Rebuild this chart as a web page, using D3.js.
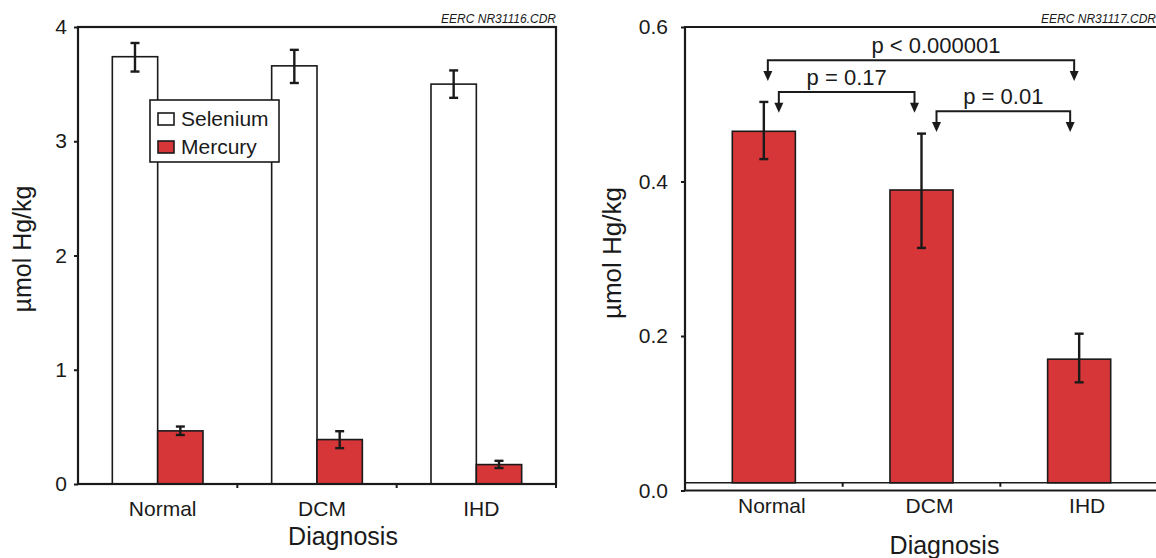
<!DOCTYPE html>
<html>
<head>
<meta charset="utf-8">
<script src="https://cdn.jsdelivr.net/npm/d3@7"></script>
<style>
  body { margin: 0; background: #fff; }
  svg { display: block; font-family: "Liberation Sans", Arial, sans-serif; }
</style>
</head>
<body>
<svg width="1156" height="558"></svg>
<script>
// data
const categories = ['Normal', 'DCM', 'IHD'];
const series = ['Selenium', 'Mercury'];
const selenium = [3.74, 3.66, 3.50];
const seleniumHi = [3.86, 3.80, 3.62];
const seleniumLo = [3.61, 3.51, 3.38];
const mercury = [0.465, 0.389, 0.170];
const mercuryHi = [0.503, 0.462, 0.203];
const mercuryLo = [0.429, 0.314, 0.140];
const leftTicks = [0, 1, 2, 3, 4];
const rightTicks = [0, 0.2, 0.4, 0.6];
const pLabels = ['p < 0.000001', 'p = 0.17', 'p = 0.01'];
const pPairs = [['Normal', 'IHD'], ['Normal', 'DCM'], ['DCM', 'IHD']];

const red = '#d63638';
const ink = '#1a1a1a';
const svg = d3.select('svg');

// ---------- left panel ----------
const L = {left: 78, right: 556, top: 27, bottom: 484};
const x1 = d3.scaleBand().domain(categories).range([L.left, L.right]);
const xs1 = d3.scaleBand().domain(series).range([0, x1.bandwidth()]).paddingOuter(0.757);
const y1 = d3.scaleLinear().domain([0, 4]).range([L.bottom, L.top]);

const left = svg.append('g');

const rows = categories.map((c, i) => ({
  cat: c,
  vals: [
    {s: 'Selenium', v: selenium[i], hi: seleniumHi[i], lo: seleniumLo[i]},
    {s: 'Mercury', v: mercury[i], hi: mercuryHi[i], lo: mercuryLo[i]}
  ]
}));

const grp = left.selectAll('g.grp').data(rows).enter().append('g')
  .attr('transform', d => `translate(${x1(d.cat)},0)`);

grp.selectAll('rect').data(d => d.vals).enter().append('rect')
  .attr('x', d => xs1(d.s))
  .attr('y', d => y1(d.v))
  .attr('width', xs1.bandwidth())
  .attr('height', d => y1(0) - y1(d.v))
  .attr('fill', d => d.s === 'Mercury' ? red : '#fff')
  .attr('stroke', ink).attr('stroke-width', 1.6);

// error bar: stem + two caps
const errbar = (g, xf, yf, cap) => {
  g.append('line')
    .attr('x1', xf).attr('x2', xf)
    .attr('y1', d => yf(d.hi)).attr('y2', d => yf(d.lo));
  g.append('line')
    .attr('x1', d => xf(d) - cap).attr('x2', d => xf(d) + cap)
    .attr('y1', d => yf(d.hi)).attr('y2', d => yf(d.hi));
  g.append('line')
    .attr('x1', d => xf(d) - cap).attr('x2', d => xf(d) + cap)
    .attr('y1', d => yf(d.lo)).attr('y2', d => yf(d.lo));
};

grp.selectAll('g.err').data(d => d.vals).enter().append('g')
  .attr('stroke', ink).attr('stroke-width', 2.4)
  .call(errbar, d => xs1(d.s) + xs1.bandwidth() / 2, y1, 4.5);

// frame
left.append('rect')
  .attr('x', L.left).attr('y', L.top)
  .attr('width', L.right - L.left).attr('height', L.bottom - L.top)
  .attr('fill', 'none').attr('stroke', ink).attr('stroke-width', 2.2);

// y axis
left.append('g')
  .attr('transform', `translate(${L.left},0)`)
  .call(d3.axisLeft(y1).tickValues(leftTicks).tickFormat(d3.format('d')).tickSize(4).tickSizeOuter(0).tickPadding(7))
  .call(g => g.select('.domain').remove())
  .call(g => g.selectAll('line').attr('stroke', ink).attr('stroke-width', 2))
  .call(g => g.selectAll('text').attr('font-size', 21).attr('fill', ink).attr('font-family', 'Liberation Sans, Arial'));

// x ticks on band edges
left.selectAll('line.xt').data(categories.slice(1).map(c => x1(c)).concat([L.right])).enter()
  .append('line')
  .attr('x1', d => d).attr('x2', d => d)
  .attr('y1', L.bottom).attr('y2', L.bottom + 4)
  .attr('stroke', ink).attr('stroke-width', 2);

left.append('g')
  .attr('transform', `translate(5,${L.bottom})`)
  .call(d3.axisBottom(x1).tickSize(0).tickPadding(17))
  .call(g => g.select('.domain').remove())
  .call(g => g.selectAll('text').attr('font-size', 21).attr('fill', ink).attr('font-family', 'Liberation Sans, Arial'));

left.append('text')
  .attr('x', (L.left + L.right) / 2 + 26).attr('y', 545)
  .attr('text-anchor', 'middle').attr('font-size', 25).attr('fill', ink)
  .text('Diagnosis');

left.append('text')
  .attr('transform', `translate(31,249) rotate(-90)`)
  .attr('text-anchor', 'middle').attr('font-size', 25).attr('fill', ink)
  .text('µmol Hg/kg');

left.append('text')
  .attr('x', L.right).attr('y', 23)
  .attr('text-anchor', 'end').attr('font-size', 12).attr('font-style', 'italic').attr('fill', ink)
  .text('EERC NR31116.CDR');

// legend
const leg = left.append('g').attr('transform', 'translate(150,100)');
leg.append('rect').attr('width', 129).attr('height', 62)
  .attr('fill', '#fff').attr('stroke', ink).attr('stroke-width', 1.6);
const li = leg.selectAll('g.li').data(series).enter().append('g')
  .attr('transform', (d, i) => `translate(8,${13 + i * 28})`);
li.append('rect').attr('width', 16).attr('height', 12)
  .attr('fill', d => d === 'Mercury' ? red : '#fff')
  .attr('stroke', ink).attr('stroke-width', 1.6);
li.append('text').attr('x', 23).attr('y', 13)
  .attr('font-size', 21).attr('fill', ink)
  .text(d => d);

// ---------- right panel ----------
const R = {left: 685, right: 1158, top: 27, bottom: 490.5};
const base = 0.01;
const x2 = d3.scaleBand().domain(categories).range([R.left, R.right]);
const y2 = d3.scaleLinear().domain([0, 0.6]).range([R.bottom, R.top]);
const bw2 = x2.bandwidth() * 0.4;
const cx2 = c => x2(c) + x2.bandwidth() / 2;

const right = svg.append('g');
const hg = categories.map((c, i) => ({cat: c, v: mercury[i], hi: mercuryHi[i], lo: mercuryLo[i]}));

right.selectAll('rect.bar').data(hg).enter().append('rect')
  .attr('x', d => cx2(d.cat) - bw2 / 2)
  .attr('y', d => y2(d.v))
  .attr('width', bw2)
  .attr('height', d => y2(base) - y2(d.v))
  .attr('fill', red).attr('stroke', ink).attr('stroke-width', 1.6);

right.selectAll('g.err').data(hg).enter().append('g')
  .attr('stroke', ink).attr('stroke-width', 2.4)
  .call(errbar, d => cx2(d.cat), y2, 4.5);

// frame lines
right.append('path')
  .attr('d', `M${R.right + 10},${R.top}H${R.left}V${R.bottom}H${R.right + 10}`)
  .attr('fill', 'none').attr('stroke', ink).attr('stroke-width', 2.2);
right.append('line')
  .attr('x1', R.left).attr('x2', R.right + 10)
  .attr('y1', y2(base)).attr('y2', y2(base))
  .attr('stroke', ink).attr('stroke-width', 1.6);

right.append('g')
  .attr('transform', `translate(${R.left},0)`)
  .call(d3.axisLeft(y2).tickValues(rightTicks).tickFormat(d3.format('.1f')).tickSize(4).tickSizeOuter(0).tickPadding(13))
  .call(g => g.select('.domain').remove())
  .call(g => g.selectAll('line').attr('stroke', ink).attr('stroke-width', 2))
  .call(g => g.selectAll('text').attr('font-size', 21).attr('fill', ink).attr('font-family', 'Liberation Sans, Arial'));

right.selectAll('line.xt').data(categories.slice(1).map(c => x2(c))).enter()
  .append('line')
  .attr('x1', d => d).attr('x2', d => d)
  .attr('y1', y2(base)).attr('y2', y2(base) + 4)
  .attr('stroke', ink).attr('stroke-width', 2);

right.append('g')
  .attr('transform', `translate(8,${R.bottom})`)
  .call(d3.axisBottom(x2).tickSize(0).tickPadding(7.5))
  .call(g => g.select('.domain').remove())
  .call(g => g.selectAll('text').attr('font-size', 21).attr('fill', ink).attr('font-family', 'Liberation Sans, Arial'));

right.append('text')
  .attr('x', (R.left + R.right) / 2 + 23).attr('y', 554)
  .attr('text-anchor', 'middle').attr('font-size', 25).attr('fill', ink)
  .text('Diagnosis');

right.append('text')
  .attr('transform', `translate(621,253) rotate(-90)`)
  .attr('text-anchor', 'middle').attr('font-size', 26).attr('fill', ink)
  .text('µmol Hg/kg');

right.append('text')
  .attr('x', 1156).attr('y', 23)
  .attr('text-anchor', 'end').attr('font-size', 12).attr('font-style', 'italic').attr('fill', ink)
  .text('EERC NR31117.CDR');

// significance brackets (level = data value of the bracket, tip = arrow tip)
const brackets = pLabels.map((label, i) => ({
  label,
  a: pPairs[i][0], b: pPairs[i][1],
  level: [0.557, 0.516, 0.491][i],
  tip: [0.530, 0.489, 0.464][i],
  da: [4, 15, 15][i], db: [-5, -7, -9][i],
  dt: [15, 0, 0][i]
}));

const br = right.selectAll('g.br').data(brackets).enter().append('g');
br.append('path')
  .attr('d', d => {
    const xa = cx2(d.a) + d.da, xb = cx2(d.b) + d.db;
    const yl = y2(d.level), yt = y2(d.tip) - 8;
    return `M${xa},${yt}V${yl}H${xb}V${yt}`;
  })
  .attr('fill', 'none').attr('stroke', ink).attr('stroke-width', 2);
br.selectAll('path.ah').data(d => [[cx2(d.a) + d.da, y2(d.tip)], [cx2(d.b) + d.db, y2(d.tip)]])
  .enter().append('path')
  .attr('d', p => `M${p[0]},${p[1]}L${p[0] - 4.5},${p[1] - 10}L${p[0] + 4.5},${p[1] - 10}Z`)
  .attr('fill', ink);
br.append('text')
  .attr('x', d => (cx2(d.a) + d.da + cx2(d.b) + d.db) / 2 + d.dt)
  .attr('y', d => y2(d.level) - 7)
  .attr('text-anchor', 'middle').attr('font-size', 22).attr('fill', ink)
  .text(d => d.label);
</script>
</body>
</html>
